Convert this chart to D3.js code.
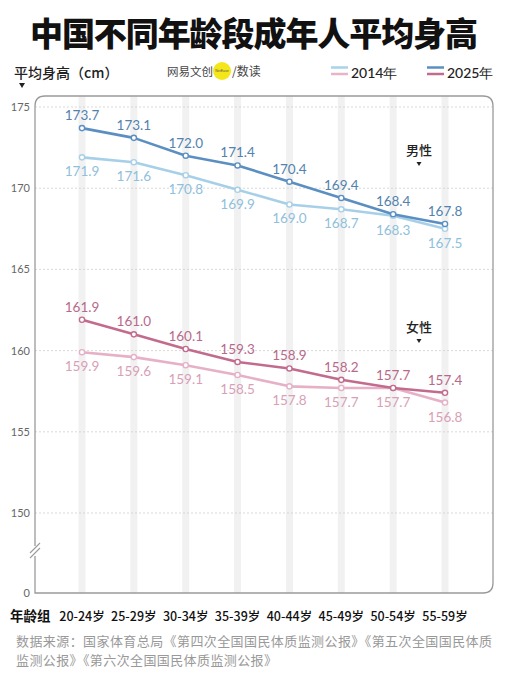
<!DOCTYPE html>
<html><head><meta charset="utf-8">
<script src="https://cdn.jsdelivr.net/npm/d3@7"></script>
<style>
html,body{margin:0;padding:0;background:#fff;}
svg{display:block;}
</style></head>
<body>
<svg id="c" width="507" height="680"></svg>
<script>
const categories = ["20-24岁","25-29岁","30-34岁","35-39岁","40-44岁","45-49岁","50-54岁","55-59岁"];
const male2025 = [173.7,173.1,172.0,171.4,170.4,169.4,168.4,167.8];
const male2014 = [171.9,171.6,170.8,169.9,169.0,168.7,168.3,167.5];
const female2025 = [161.9,161.0,160.1,159.3,158.9,158.2,157.7,157.4];
const female2014 = [159.9,159.6,159.1,158.5,157.8,157.7,157.7,156.8];
const yTicks = [0,150,155,160,165,170,175];

const svg = d3.select("#c");
const CJK = "'Noto Sans CJK SC','Noto Sans',sans-serif";
const NUM = "Lato,'Noto Sans',sans-serif";

const fL = 35, fR = 493, fT = 96, fB = 593;
const x = d3.scalePoint().domain(categories).range([82, 445]);
const y = d3.scaleLinear().domain([0,150,175]).range([593,513,107]);

// title
svg.append("text").attr("x",30).attr("y",46).attr("textLength",448).attr("lengthAdjust","spacing")
  .attr("font-family",CJK).attr("font-weight",900).attr("font-size",33).attr("fill","#111")
  .text("中国不同年龄段成年人平均身高");

// y unit label
svg.append("text").attr("x",14).attr("y",78).attr("font-family",CJK).attr("font-size",14).attr("font-weight",500).attr("fill","#222")
  .text("平均身高（cm）");
svg.append("path").attr("d","M19,83 L25,83 L22,88 Z").attr("fill","#222");

// logo
svg.append("text").attr("x",167).attr("y",75.5).attr("font-family",CJK).attr("font-size",11.5).attr("fill","#444").text("网易文创");
svg.append("circle").attr("cx",222).attr("cy",71).attr("r",9).attr("fill","#f5e61a");
svg.append("text").attr("x",222).attr("y",72).attr("text-anchor","middle").attr("font-family","sans-serif").attr("font-size",3.5).attr("fill","#555").text("NetEase");
svg.append("text").attr("x",232).attr("y",75.5).attr("font-family",CJK).attr("font-size",12).attr("fill","#444").text("/数读");

// legend
const legend = [
  {label:"2014年", x:331, c1:"#a9d3ea", c2:"#e8b4c8"},
  {label:"2025年", x:427, c1:"#5b8fc2", c2:"#c36b8d"}
];
legend.forEach(l=>{
  svg.append("line").attr("x1",l.x).attr("x2",l.x+17).attr("y1",67.5).attr("y2",67.5).attr("stroke",l.c1).attr("stroke-width",2.5);
  svg.append("line").attr("x1",l.x).attr("x2",l.x+17).attr("y1",74).attr("y2",74).attr("stroke",l.c2).attr("stroke-width",2.5);
  svg.append("text").attr("x",l.x+20).attr("y",78).attr("font-family",NUM).attr("font-size",14).attr("font-weight",500).attr("fill","#222").text(l.label);
});

// vertical stripes
svg.append("g").selectAll("rect").data(categories).join("rect")
  .attr("x",d=>x(d)-3.5).attr("width",7).attr("y",fT).attr("height",fB-fT).attr("fill","#f1f1f1");

// gridlines
svg.append("g").selectAll("line").data(yTicks.filter(t=>t>0)).join("line")
  .attr("x1",fL).attr("x2",fR).attr("y1",d=>y(d)).attr("y2",d=>y(d))
  .attr("stroke","#cfcfcf").attr("stroke-width",0.8).attr("stroke-dasharray","2,2");

// frame
const rr = 10;
svg.append("path").attr("d",
  `M${fL},${fB} L${fL},${fT+rr} Q${fL},${fT} ${fL+rr},${fT} L${fR-rr},${fT} Q${fR},${fT} ${fR},${fT+rr} L${fR},${fB-rr} Q${fR},${fB} ${fR-rr},${fB} Z`)
  .attr("fill","none").attr("stroke","#9a9a9a").attr("stroke-width",1.3);

// axis break
svg.append("rect").attr("x",fL-4).attr("y",546).attr("width",8).attr("height",10).attr("fill","#fff");
svg.append("line").attr("x1",30).attr("y1",553).attr("x2",40).attr("y2",543).attr("stroke","#9a9a9a").attr("stroke-width",1.1);
svg.append("line").attr("x1",30).attr("y1",558).attr("x2",40).attr("y2",548).attr("stroke","#9a9a9a").attr("stroke-width",1.1);

// y tick labels
svg.append("g").selectAll("text").data(yTicks).join("text")
  .attr("x",30).attr("y",d=>y(d)+4).attr("text-anchor","end")
  .attr("font-family",NUM).attr("font-size",11).attr("fill","#666").text(d=>d);

// series
const series = [
  {vals:male2014, line:"#a7d0e8", label:"#8fc0dc", pos:"below"},
  {vals:male2025, line:"#5b8fc2", label:"#5282ad", pos:"above"},
  {vals:female2014, line:"#e6b0c6", label:"#d89fb7", pos:"below"},
  {vals:female2025, line:"#c36b8d", label:"#b8698a", pos:"above"}
];
const lineGen = d3.line().x((d,i)=>x(categories[i])).y(d=>y(d));
series.forEach(s=>{
  const g = svg.append("g");
  g.append("path").datum(s.vals).attr("d",lineGen).attr("fill","none").attr("stroke",s.line).attr("stroke-width",2.6).attr("stroke-linejoin","round");
  g.selectAll("circle").data(s.vals).join("circle")
    .attr("cx",(d,i)=>x(categories[i])).attr("cy",d=>y(d)).attr("r",2.6)
    .attr("fill","#fff").attr("stroke",s.line).attr("stroke-width",1.4);
  g.selectAll("text").data(s.vals).join("text")
    .attr("x",(d,i)=>x(categories[i])).attr("y",d=>s.pos==="above"? y(d)-8 : y(d)+19)
    .attr("text-anchor","middle").attr("font-family",NUM).attr("font-size",13.5).attr("fill",s.label)
    .text(d=>d.toFixed(1));
});

// gender labels
[["男性",150,164],["女性",327,341]].forEach(([t,ty,ay])=>{
  svg.append("text").attr("x",419).attr("y",ty+5).attr("text-anchor","middle").attr("font-family",CJK).attr("font-size",13).attr("font-weight",500).attr("fill","#222").text(t);
  svg.append("path").attr("d",`M416.5,${ay-2} L421.5,${ay-2} L419,${ay+2} Z`).attr("fill","#222");
});

// x axis labels
svg.append("text").attr("x",10).attr("y",621).attr("font-family",CJK).attr("font-size",13.5).attr("font-weight",700).attr("fill","#111").text("年龄组");
svg.append("g").selectAll("text").data(categories).join("text")
  .attr("x",d=>x(d)).attr("y",621).attr("text-anchor","middle")
  .attr("font-family",CJK).attr("font-size",12.5).attr("font-weight",500).attr("fill","#111").text(d=>d);

// source
svg.append("text").attr("x",16).attr("y",646).attr("font-family",CJK).attr("font-size",13).attr("fill","#999")
  .attr("textLength",476).attr("lengthAdjust","spacing")
  .text("数据来源：国家体育总局《第四次全国国民体质监测公报》《第五次全国国民体质");
svg.append("text").attr("x",16).attr("y",665).attr("font-family",CJK).attr("font-size",13).attr("fill","#999")
  .attr("textLength",261).attr("lengthAdjust","spacing")
  .text("监测公报》《第六次全国国民体质监测公报》");
</script>
</body></html>
